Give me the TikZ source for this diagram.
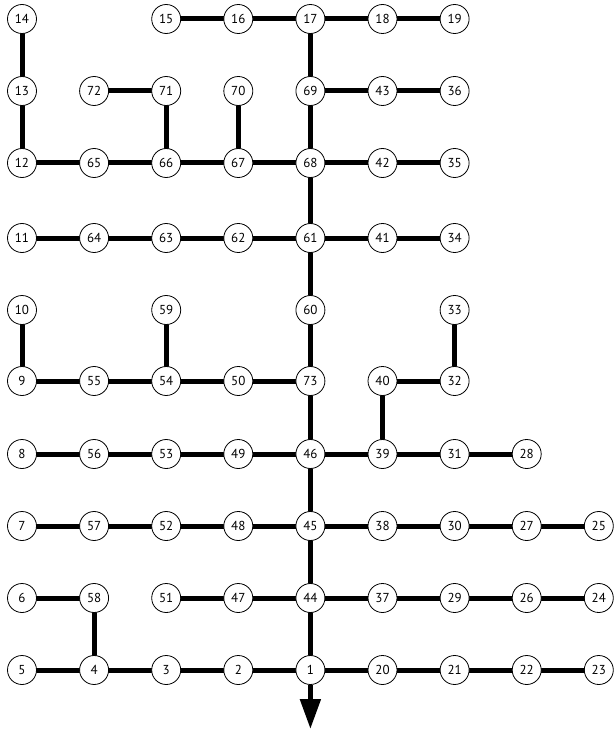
\documentclass[tikz,border=0pt]{standalone}
\usepackage{fontspec}
\setmainfont{PT Sans}
\usetikzlibrary{arrows.meta}
\begin{document}
\begin{tikzpicture}[x=1pt,y=-1pt,
  bus/.style={circle,draw,fill=white,line width=0.8pt,minimum size=29pt,inner sep=0pt,font=\fontsize{13}{13}\selectfont},
  line/.style={line width=5pt}]
\useasboundingbox (0,0) rectangle (614,730);
\foreach \lab/\c/\r in {
 14/0/19, 15/2/19, 16/3/19, 17/4/19, 18/5/19, 19/6/19,
 13/0/91, 72/1/91, 71/2/91, 70/3/91, 69/4/91, 43/5/91, 36/6/91,
 12/0/163, 65/1/163, 66/2/163, 67/3/163, 68/4/163, 42/5/163, 35/6/163,
 11/0/238, 64/1/238, 63/2/238, 62/3/238, 61/4/238, 41/5/238, 34/6/238,
 10/0/310, 59/2/310, 60/4/310, 33/6/310,
 9/0/381, 55/1/381, 54/2/381, 50/3/381, 73/4/381, 40/5/381, 32/6/381,
 8/0/454, 56/1/454, 53/2/454, 49/3/454, 46/4/454, 39/5/454, 31/6/454, 28/7/454,
 7/0/526, 57/1/526, 52/2/526, 48/3/526, 45/4/526, 38/5/526, 30/6/526, 27/7/526, 25/8/526,
 6/0/598, 58/1/598, 51/2/598, 47/3/598, 44/4/598, 37/5/598, 29/6/598, 26/7/598, 24/8/598,
 5/0/670, 4/1/670, 3/2/670, 2/3/670, 1/4/670, 20/5/670, 21/6/670, 22/7/670, 23/8/670}
 {\coordinate (p\lab) at ({22+72.1*\c},\r);}
\coordinate (out) at ({22+72.1*4},729);
\foreach \a/\b in {14/13,13/12,15/16,16/17,17/18,18/19,17/69,
 72/71,69/43,43/36,71/66,70/67,69/68,
 12/65,65/66,66/67,67/68,68/42,42/35,68/61,
 11/64,64/63,63/62,62/61,61/41,41/34,61/60,
 10/9,59/54,60/73,33/32,
 9/55,55/54,54/50,50/73,40/32,73/46,40/39,
 8/56,56/53,53/49,49/46,46/39,39/31,31/28,46/45,
 7/57,57/52,52/48,48/45,45/38,38/30,30/27,27/25,45/44,
 6/58,51/47,47/44,44/37,37/29,29/26,26/24,58/4,44/1,
 5/4,4/3,3/2,2/1,1/20,20/21,21/22,22/23}
 {\draw[line] (p\a) -- (p\b);}
\foreach \lab in {1,...,73}
 {\node[bus] (n\lab) at (p\lab) {\lab};}
\draw[line,-{Triangle[width=20pt,length=30pt]}] (n1) -- (out);
\end{tikzpicture}
\end{document}
